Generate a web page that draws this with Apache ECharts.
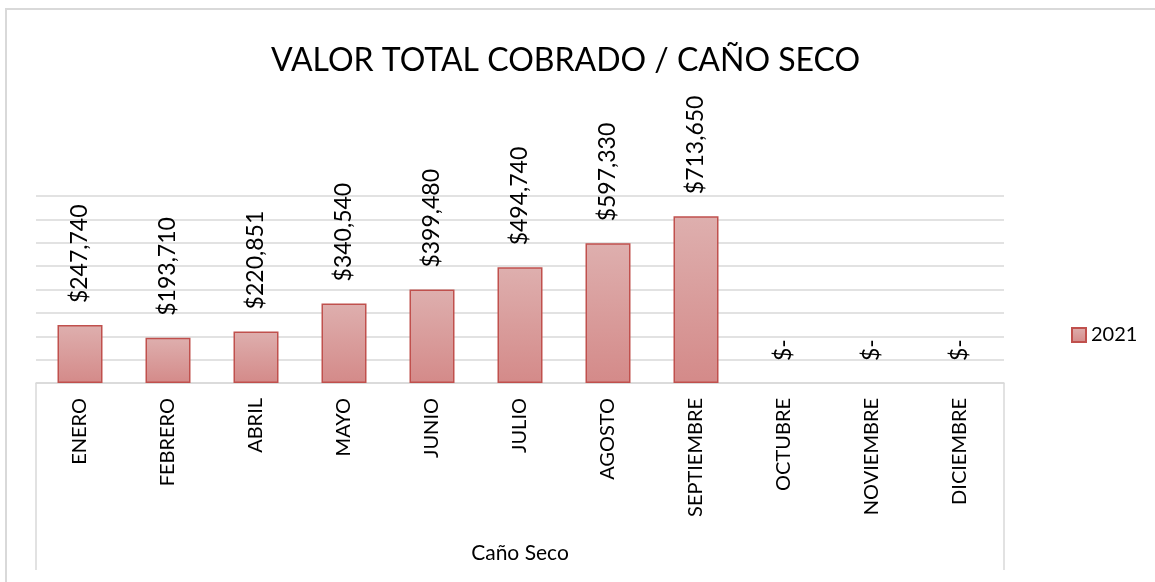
<!DOCTYPE html>
<html>
<head>
<meta charset="utf-8">
<script src="https://cdn.jsdelivr.net/npm/echarts@6/dist/echarts.min.js"></script>
<style>
  html, body { margin: 0; padding: 0; background: #fff; }
  #main { width: 1155px; height: 582px; }
</style>
</head>
<body>
<div id="main"></div>
<script>
// datos del grafico
var meses = ['ENERO', 'FEBRERO', 'ABRIL', 'MAYO', 'JUNIO', 'JULIO', 'AGOSTO', 'SEPTIEMBRE', 'OCTUBRE', 'NOVIEMBRE', 'DICIEMBRE'];
var valores2021 = [247740, 193710, 220851, 340540, 399480, 494740, 597330, 713650, 0, 0, 0];
var nombreSerie = '2021';

var myChart = echarts.init(document.getElementById('main'));

// formato contable: $247,740 o $- cuando es cero
function formatoPeso(v) {
    if (v === 0) return '$-';
    return '$' + String(v).replace(/\B(?=(\d{3})+(?!\d))/g, ',');
}

var gridLeft = 36, gridRight = 151, gridTop = 196, gridBottom = 199;
var ejeY = 582 - gridBottom;
var finX = 1155 - gridRight;

// las barras en cero no llevan borde
var datosBarras = valores2021.map(function (v) {
    return { value: v, itemStyle: { borderWidth: v === 0 ? 0 : 1.5 } };
});

var option = {
    animation: false,
    backgroundColor: '#fff',
    title: {
        text: 'VALOR TOTAL COBRADO / CAÑO SECO',
        left: 266,
        top: 40,
        textStyle: {
            fontFamily: 'Lato',
            fontWeight: 'normal',
            fontSize: 32,
            color: '#000'
        }
    },
    legend: {
        data: [{ name: nombreSerie, icon: 'rect' }],
        orient: 'vertical',
        left: 1066,
        top: 320,
        itemWidth: 14,
        itemHeight: 14,
        itemGap: 5,
        textStyle: { fontFamily: 'Lato', fontSize: 20, color: '#000' }
    },
    grid: { left: gridLeft, right: gridRight, top: gridTop, bottom: gridBottom },
    xAxis: {
        type: 'category',
        data: meses,
        name: 'Caño Seco',
        nameLocation: 'middle',
        nameGap: 160,
        nameTextStyle: { fontFamily: 'Lato', fontSize: 21, color: '#000' },
        axisLine: { show: true, lineStyle: { color: '#d9d9d9', width: 1.5 } },
        axisTick: { show: false },
        axisLabel: {
            rotate: 90,
            margin: 15,
            fontFamily: 'Lato',
            fontSize: 20,
            color: '#000'
        }
    },
    yAxis: {
        type: 'value',
        min: 0,
        max: 800000,
        interval: 100000,
        axisLabel: { show: false },
        axisLine: { show: false },
        axisTick: { show: false },
        splitLine: { lineStyle: { color: '#d9d9d9', width: 1.5 } }
    },
    series: [{
        name: nombreSerie,
        type: 'bar',
        data: datosBarras,
        barWidth: 45,
        itemStyle: {
            color: new echarts.graphic.LinearGradient(0, 0, 0, 1, [
                { offset: 0, color: '#deafae' },
                { offset: 1, color: '#d48a89' }
            ]),
            borderColor: '#c0504d',
            borderWidth: 1.5
        },
        label: {
            show: true,
            position: 'top',
            rotate: 90,
            align: 'left',
            verticalAlign: 'middle',
            distance: 22,
            fontFamily: 'Lato',
            fontSize: 23,
            color: '#000',
            formatter: function (p) { return formatoPeso(p.value); }
        }
    }],
    graphic: [
        {
            type: 'rect',
            shape: { x: 6, y: 9, width: 1300, height: 700 },
            style: { fill: null, stroke: '#d9d9d9', lineWidth: 2 },
            silent: true
        },
        {
            type: 'line',
            shape: { x1: gridLeft, y1: ejeY, x2: gridLeft, y2: 570 },
            style: { stroke: '#d9d9d9', lineWidth: 1.5 },
            silent: true
        },
        {
            type: 'line',
            shape: { x1: finX, y1: ejeY, x2: finX, y2: 570 },
            style: { stroke: '#d9d9d9', lineWidth: 1.5 },
            silent: true
        }
    ]
};

myChart.setOption(option);
</script>
</body>
</html>
